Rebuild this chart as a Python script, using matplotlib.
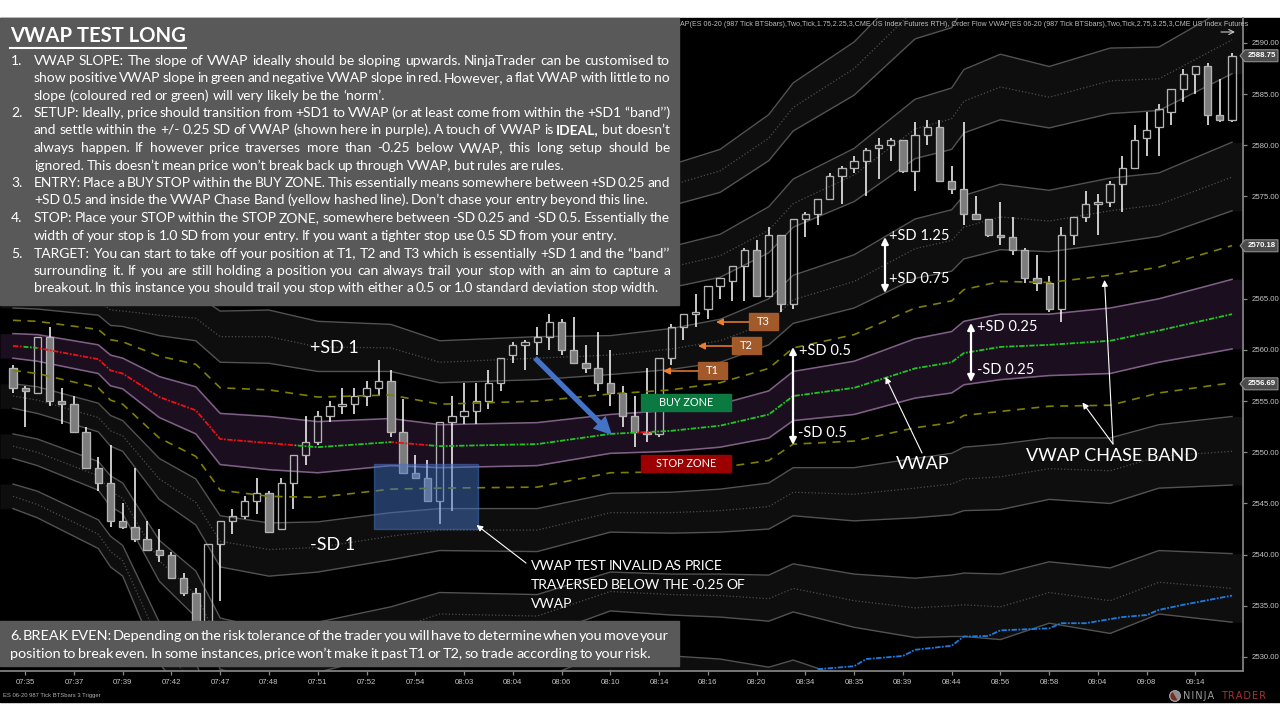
### VWAP test long: candles, VWAP bands and slide notes
import matplotlib
matplotlib.use('Agg')
import matplotlib.pyplot as plt
import numpy as np
from matplotlib.patches import Rectangle, Polygon, Circle, Wedge

# price values are kept relative to this, candles are on 0.25 ticks
base = 2500

opens = [58.25,56.25,55.75,61.25,55.0,54.75,52.0,48.5,47.0,43.25,42.75,41.5,40.5,40.0,37.75,36.25,32.5,41.0,43.25,43.75,
         45.25,46.0,42.5,47.0,49.75,51.0,53.5,54.5,54.75,55.5,56.25,57.0,52.0,48.0,47.5,45.25,53.0,53.5,54.0,55.0,
         56.75,59.5,60.5,60.75,61.25,62.75,60.0,58.75,58.25,56.75,55.75,53.5,52.0,51.75,59.25,62.25,63.5,64.0,66.25,66.75,
         68.25,69.75,65.25,71.25,64.5,72.75,73.25,74.75,77.0,77.75,78.5,79.75,80.0,80.5,77.5,81.0,81.75,76.5,75.75,73.25,
         72.75,71.25,71.0,69.75,67.0,66.5,64.0,71.25,73.0,74.25,74.5,76.25,77.75,80.75,81.75,83.25,85.5,87.0,87.75,83.0,82.5]
highs = [58.5,56.5,61.25,62.25,56.25,55.5,52.5,49.5,50.75,45.0,48.5,43.25,42.5,40.25,38.25,36.75,41.0,43.25,44.5,45.75,
         47.5,46.25,47.5,49.75,53.5,54.0,55.0,56.25,56.25,57.0,59.0,58.0,55.25,49.75,49.25,53.0,55.5,56.75,56.75,58.0,
         59.25,60.75,61.0,62.25,63.5,63.0,63.25,60.5,61.75,60.0,56.5,55.5,58.25,59.25,62.5,63.5,65.5,66.25,67.0,68.25,
         70.0,70.75,72.0,71.25,72.75,73.5,74.75,77.25,78.0,79.0,79.75,80.75,80.75,80.5,82.25,82.5,82.5,78.0,82.25,75.0,
         72.75,74.5,73.0,70.0,69.25,67.25,72.0,73.0,75.5,75.25,76.5,79.0,82.0,83.25,84.0,85.5,87.5,87.75,88.0,86.5,89.0]
lows = [55.75,52.5,55.75,54.5,52.75,52.0,48.5,46.25,42.75,42.5,41.25,40.5,39.25,37.75,36.0,31.5,32.5,35.5,42.0,43.5,
        44.0,42.25,42.5,44.5,48.75,50.75,53.0,53.75,53.75,54.5,55.5,51.5,48.0,47.5,45.25,43.0,44.25,52.75,52.75,54.25,
        56.0,58.75,58.0,59.5,60.0,59.5,58.75,57.75,56.0,54.5,52.5,50.5,51.0,51.5,58.5,61.0,62.25,63.0,65.0,64.75,
        64.75,65.25,65.25,63.75,64.0,71.0,72.25,74.75,74.25,77.25,75.0,76.75,78.5,77.25,75.5,80.0,76.5,75.25,72.25,72.75,
        71.0,70.25,69.25,66.5,65.75,63.75,62.75,70.25,72.5,71.25,74.0,73.5,77.75,79.0,79.0,82.0,84.25,85.0,82.0,82.25,82.25]
closes = [56.25,56.0,61.25,55.0,54.75,52.0,48.5,47.0,43.25,42.75,41.5,40.5,40.0,37.75,36.25,31.75,41.0,43.25,43.75,45.25,
          46.0,42.25,47.0,49.75,51.0,53.5,54.5,54.75,55.5,56.25,57.0,52.0,48.0,47.5,45.25,53.0,53.5,54.0,55.0,56.75,
          59.25,60.5,60.75,61.25,62.75,60.0,58.75,58.25,56.75,55.75,53.5,52.0,51.75,59.25,62.25,63.5,63.75,66.25,67.0,68.25,
          69.75,65.25,71.25,64.5,72.75,73.25,74.75,77.0,77.75,78.5,79.5,80.0,80.5,77.5,81.0,81.75,76.5,75.75,73.25,72.75,
          71.25,71.0,69.75,67.0,66.5,64.0,71.25,73.0,74.25,74.5,76.25,77.75,80.5,81.5,83.5,85.5,87.0,87.75,83.0,82.5,88.75]

band_bars = [0,2,7,8,9,12,15,17,21,25,31,35,43,49,54,58,62,64,69,74,77,78,81,85,90,94,100]
upper_bars = band_bars[13:]   # everything further left is behind the text panel

vwap = [60.4,60.2,59.1,58.0,57.7,55.4,54.1,51.3,50.9,50.5,51.0,50.6,50.8,51.8,52.1,52.6,53.7,55.5,56.3,58.2,58.8,59.7,60.3,60.5,60.9,61.9,63.5]
up_025 = [61.6,61.5,60.5,59.5,59.2,57.4,56.4,53.8,53.5,53.0,53.3,52.7,52.9,53.7,54.1,54.7,56.0,57.9,58.9,61.1,61.8,62.8,63.5,63.5,64.1,65.0,66.9]
dn_025 = [59.2,58.9,57.7,56.5,56.2,53.4,51.8,48.8,48.3,48.0,48.7,48.5,48.7,49.9,50.1,50.5,51.4,53.1,53.7,55.3,55.8,56.6,57.1,57.5,57.7,58.8,60.1]
up_050 = [62.9,62.8,62.0,61.0,60.8,59.4,58.6,56.3,56.1,55.4,55.6,54.7,55.0,55.7,56.1,56.8,58.2,60.2,61.5,64.1,64.8,65.9,66.7,66.6,67.3,68.1,70.2]
dn_050 = [58.0,57.7,56.3,55.1,54.7,51.4,49.6,46.3,45.7,45.6,46.4,46.5,46.6,48.0,48.1,48.5,49.2,50.8,51.1,52.4,52.9,53.6,54.0,54.5,54.6,55.8,56.8]
up_075 = [64.1,64.0,63.4,62.4,62.3,61.4,60.9,58.8,58.7,57.9,57.9,56.8,57.1,57.6,58.1,58.8,60.5,62.6,64.1,67.0,67.7,68.9,69.8,69.6,70.4,71.1,73.6]
dn_075 = [56.7,56.4,54.8,53.6,53.1,49.4,47.4,43.8,43.1,43.2,44.1,44.5,44.5,46.0,46.1,46.4,47.0,48.5,48.5,49.4,49.9,50.5,50.8,51.4,51.4,52.7,53.5]
up_100 = [65.3,65.3,64.8,63.9,63.8,63.4,63.1,61.3,61.3,60.3,60.2,58.8,59.2,59.5,60.1,60.9,62.7,64.9,66.7,69.9,70.7,72.0,73.0,72.6,73.6,74.2,76.9]
dn_100 = [55.5,55.1,53.4,52.1,51.6,47.4,45.1,41.3,40.5,40.7,41.8,42.4,42.4,44.1,44.1,44.3,44.7,46.1,45.9,46.5,46.9,47.4,47.6,48.4,48.2,49.6,50.1]
up_125 = [66.5,66.6,66.2,65.4,65.3,65.4,65.4,63.8,63.9,62.8,62.5,60.9,61.3,61.4,62.1,63.0,65.0,67.3,69.3,72.8,73.7,75.1,76.2,75.6,76.8,77.3,80.3]
dn_125 = [54.3,53.8,52.0,50.6,50.1,45.4,42.9,38.8,37.9,38.3,39.5,40.4,40.3,42.2,42.1,42.2,42.5,43.8,43.3,43.6,43.9,44.3,44.4,45.4,45.0,46.5,46.8]
dn_175 = [51.8,51.3,49.1,47.7,47.0,41.4,38.4,33.8,32.7,33.4,34.9,36.3,36.1,38.3,38.1,38.1,38.0,39.1,38.1,37.7,38.0,38.2,38.1,39.3,38.7,40.4,40.1]
dn_200 = [50.6,50.0,47.7,46.2,45.5,39.4,36.1,31.3,30.1,30.9,32.6,34.2,34.0,36.4,36.1,36.0,35.7,36.7,35.5,34.8,35.0,35.1,34.9,36.3,35.5,37.3,36.7]
dn_225 = [49.4,48.7,46.3,44.7,44.0,37.4,33.9,28.8,27.5,28.5,30.3,32.2,31.9,34.5,34.1,33.9,33.5,34.4,32.9,31.9,32.0,32.0,31.7,33.3,32.3,34.2,33.4]
dn_275 = [46.9,46.2,43.4,41.8,40.9,33.4,29.4,23.8,22.3,23.6,25.7,28.1,27.7,30.6,30.1,29.8,29.0,29.7,27.7,26.0,26.1,25.9,25.4,27.2,26.0,28.1,26.7]
dn_300 = [45.7,44.9,42.0,40.3,39.4,31.4,27.1,21.3,19.7,21.1,23.4,26.0,25.6,28.7,28.1,27.7,26.7,27.3,25.1,23.1,23.1,22.8,22.2,24.2,22.8,25.0,23.3]
dn_325 = [44.5,43.6,40.6,38.8,37.9,29.4,24.9,18.8,17.1,18.7,21.1,24.0,23.5,26.8,26.1,25.6,24.5,25.0,22.5,20.2,20.1,19.7,19.0,21.2,19.6,21.9,20.0]
up_175 = [65.3,66.1,67.1,69.5,72.0,74.5,78.7,79.6,81.2,82.5,81.7,83.1,83.4,87.0]
up_200 = [67.2,68.1,69.2,71.7,74.3,77.1,81.6,82.6,84.3,85.7,84.7,86.3,86.5,90.3]
up_225 = [69.1,70.1,71.3,74.0,76.7,79.7,84.5,85.6,87.4,88.9,87.7,89.5,89.6,93.7]
up_275 = [73.0,74.1,75.4,78.5,81.4,84.9,90.4,91.5,93.5,95.2,93.8,95.8,95.7,100.4]
up_300 = [74.9,76.1,77.5,80.7,83.7,87.5,93.3,94.5,96.6,98.4,96.8,99.0,98.8,103.7]
up_325 = [76.8,78.1,79.6,83.0,86.1,90.1,96.2,97.5,99.7,101.5,99.8,102.2,101.9,107.1]

# blue line at the bottom right
blue_bars = [66,69,70,73,74,77,78,80,81,85,86,88,91,93,94,96,100]
blue_vals = [28.8,29.1,29.8,30.1,30.7,31.1,32.0,32.05,32.6,32.8,33.3,33.3,33.9,34.1,34.6,35.1,36.0]

# where VWAP is coloured red (falling) and green (rising), in bars
red_spans = [(-1,0.9),(2,23),(31,34),(51,52.4)]
green_spans = [(0.9,2),(23,31),(34,51),(52.4,101)]

# 2570 has no label, the 2570.18 tag sits on it
price_ticks = [2530,2535,2540,2545,2550,2555,2560,2565,2575,2580,2585,2590]
time_labels = ['07:35','07:37','07:39','07:42','07:47','07:48','07:51','07:52','07:54','08:03','08:04','08:06','08:10',
               '08:14','08:16','08:20','08:34','08:35','08:39','08:44','08:56','08:58','09:04','09:08','09:14']
time_bars = [1,5,9,13,17,21,25,29,33,37,41,45,49,53,57,61,65,69,73,77,81,85,89,93,97]
last_prices = [2588.75,2570.18,2556.69]

panel_lines = [
    (61, 34, 670, 'VWAP SLOPE: The slope of VWAP ideally should be sloping upwards. NinjaTrader can be customised to'),
    (78.5, 34, 670, 'show positive VWAP slope in green and negative VWAP slope in red. However, a flat VWAP with little to no'),
    (95.5, 34, 385, 'slope (coloured red or green) will very likely be the ‘norm’.'),
    (113, 34, 670, 'SETUP: Ideally, price should transition from +SD1 to VWAP (or at least come from within the +SD1 ‘‘band’’)'),
    (130, 34, 670, 'and settle within the +/- 0.25 SD of VWAP (shown here in purple). A touch of VWAP is IDEAL, but doesn’t'),
    (148, 34, 670, 'always happen. If however price traverses more than -0.25 below VWAP, this long setup should be'),
    (165.5, 34, 564, 'ignored. This doesn’t mean price won’t break back up through VWAP, but rules are rules.'),
    (183, 34, 670, 'ENTRY: Place a BUY STOP within the BUY ZONE. This essentially means somewhere between +SD 0.25 and'),
    (200.5, 34, 648, '+SD 0.5 and inside the VWAP Chase Band (yellow hashed line). Don’t chase your entry beyond this line.'),
    (218, 34, 670, 'STOP: Place your STOP within the STOP ZONE, somewhere between -SD 0.25 and -SD 0.5. Essentially the'),
    (236, 34, 617, 'width of your stop is 1.0 SD from your entry. If you want a tighter stop use 0.5 SD from your entry.'),
    (253.5, 34, 670, 'TARGET: You can start to take off your position at T1, T2 and T3 which is essentially +SD 1 and the ‘‘band’’'),
    (271, 34, 670, 'surrounding it. If you are still holding a position you can always trail your stop with an aim to capture a'),
    (288.5, 34, 659, 'breakout. In this instance you should trail you stop with either a 0.5 or 1.0 standard deviation stop width.'),
]
panel_numbers = [(61,'1.'),(113,'2.'),(183,'3.'),(218,'4.'),(253.5,'5.')]
break_even = [
    (636, 10, 669, '6. BREAK EVEN: Depending on the risk tolerance of the trader you will have to determine when you move your'),
    (653.5, 10, 651, 'position to break even. In some instances, price won’t make it past T1 or T2, so trade according to your risk.'),
]
invalid_note = [
    (566, 531, 722, 'VWAP TEST INVALID AS PRICE'),
    (585, 531, 745, 'TRAVERSED BELOW THE -0.25 OF'),
    (604, 531, 569, 'VWAP'),
]
legend_text = 'AP(ES 06-20 (987 Tick BTSbars),Two,Tick,1.75,2.25,3,CME US Index Futures RTH), Order Flow VWAP(ES 06-20 (987 Tick BTSbars),Two,Tick,2.75,3.25,3,CME US Index Futures'

fig = plt.figure(figsize=(12.8,7.2), dpi=100, facecolor='white')
fig.add_artist(Rectangle((0,18/720), 1, 684/720, transform=fig.transFigure, color='black', zorder=-1))

ax = fig.add_axes([0, 49/720, 1243/1280, 653/720], facecolor='none', zorder=1)
ax.set_xlim(-1.066, 100.9)
ax.set_ylim(2528.63, 2592.44)

x_left = -1.07
x_right = 101

def band_fill(bars, lower, upper, color):
    xs = np.r_[x_left, bars, x_right]
    lo = base + np.r_[lower[0], lower, lower[-1]]
    hi = base + np.r_[upper[0], upper, upper[-1]]
    ax.fill_between(xs, lo, hi, color=color, lw=0, zorder=1)

def band_line(bars, vals, style='-', color='#525252', lw=1.0):
    ax.plot(bars, base + np.array(vals), ls=style, color=color, lw=lw, zorder=1.5)

band_fill(band_bars, dn_025, up_025, '#1a0e1f')
for lo, hi in [(up_075,up_125),(dn_125,dn_075),(dn_225,dn_175),(dn_325,dn_275)]:
    band_fill(band_bars, lo, hi, '#0e0e0e')
for lo, hi in [(up_175,up_225),(up_275,up_325)]:
    band_fill(upper_bars, lo, hi, '#0e0e0e')

for vals in [up_075,up_125,dn_075,dn_125,dn_175,dn_225,dn_275,dn_325]:
    band_line(band_bars, vals)
for vals in [up_100,dn_100,dn_200,dn_300]:
    band_line(band_bars, vals, style=':', color='#4c4c4c', lw=0.9)
for vals in [up_175,up_225,up_275,up_325]:
    band_line(upper_bars, vals)
for vals in [up_200,up_300]:
    band_line(upper_bars, vals, style=':', color='#4c4c4c', lw=0.9)
for vals in [up_025,dn_025]:
    band_line(band_bars, vals, color='#7f5f86', lw=1.15)

# candles: grey body = down bar, see-through body = up bar
bars = np.arange(len(opens))
o = base + np.array(opens)
h = base + np.array(highs)
l = base + np.array(lows)
c = base + np.array(closes)
top = np.maximum(o,c)
bot = np.minimum(o,c)
faces = ['#7c7c7c' if cl < op else 'none' for op, cl in zip(o,c)]
ax.vlines(bars, top, h, color='white', lw=1.1, zorder=2)
ax.vlines(bars, l, bot, color='white', lw=1.1, zorder=2)
ax.bar(bars, top-bot, bottom=bot, width=0.6, facecolor=faces, edgecolor='#b4b4b4', lw=0.95, zorder=2.2)

# chase band goes over the candles
for vals in [up_050,dn_050]:
    ax.plot(band_bars, base + np.array(vals), color='#7f7f00', lw=1.2, ls=(0,(4.8,3.9)), zorder=3)

for spans, col in [(red_spans,'#ee1111'),(green_spans,'#22c422')]:
    for x0, x1 in spans:
        line, = ax.plot(band_bars, base + np.array(vwap), color=col, lw=1.3, ls=(0,(3,0.8,1,0.8)), zorder=3)
        line.set_clip_path(Rectangle((x0,2500), x1-x0, 100, transform=ax.transData))

ax.plot(blue_bars, base + np.array(blue_vals), color='#1c7ce0', lw=1.3, ls=(0,(3,0.8,1,0.8)), zorder=3)

ax.yaxis.tick_right()
ax.set_yticks(price_ticks)
ax.set_yticklabels(['%.2f' % p for p in price_ticks])
ax.set_xticks(time_bars)
ax.set_xticklabels(time_labels)
ax.tick_params(axis='both', colors='#8a8a8a', labelcolor='#c4c4c4', labelsize=5.6, length=3, width=0.9, pad=3)
for lab in ax.get_xticklabels() + ax.get_yticklabels():
    lab.set_family('Liberation Sans')
for side in ['top','left']:
    ax.spines[side].set_visible(False)
for side in ['right','bottom']:
    ax.spines[side].set_color('#808080')
    ax.spines[side].set_linewidth(1.3)

# everything that was drawn on top of the chart, in slide pixels
ov = fig.add_axes([0,0,1,1], facecolor='none', zorder=2)
ov.set_xlim(0,1280)
ov.set_ylim(720,0)
ov.axis('off')
renderer = fig.canvas.get_renderer()

ov.text(680, 25, legend_text, color='#bdbdbd', fontsize=5.1, family='Liberation Sans', va='center', zorder=1)
ov.add_patch(Rectangle((0,18), 679, 287, color='#595959', zorder=5))
ov.add_patch(Rectangle((0,621), 679, 45, color='#595959', zorder=5))

def text_line(y, x0, x1, s, size):
    # words spread out to fill x0..x1, the slide text was justified
    words = s.split(' ')
    arts = []
    total = 0
    for w in words:
        weight = 'bold' if w == 'IDEAL,' else 'normal'
        # baseline, not center: brackets and descenders would shift single words
        t = ov.text(x0, y+4, w, color='white', fontsize=size, family='Lato', weight=weight, va='baseline', zorder=6)
        arts.append(t)
        total += t.get_window_extent(renderer).width
    gap = max((x1-x0-total) / max(len(words)-1,1), 1.2)
    x = x0
    for t in arts:
        t.set_x(x)
        x += t.get_window_extent(renderer).width + gap

for y, x0, x1, s in panel_lines:
    text_line(y, x0, x1, s, 10)
for y, s in panel_numbers:
    ov.text(11, y+4, s, color='white', fontsize=10, family='Lato', va='baseline', zorder=6)
for y, x0, x1, s in break_even:
    text_line(y, x0, x1, s, 10.4)
for y, x0, x1, s in invalid_note:
    text_line(y, x0, x1, s, 10)

ov.text(10, 36, 'VWAP TEST LONG', color='white', fontsize=14.6, family='Lato', weight='bold', va='center', zorder=6)
ov.plot([10,186], [47.5,47.5], color='white', lw=1.5, zorder=6)

# buy / stop zones and targets
ov.add_patch(Rectangle((641,394), 90, 17, color='#0b7a40', zorder=4))
ov.text(686, 402.5, 'BUY ZONE', color='white', fontsize=7.8, family='Lato', ha='center', va='center', zorder=6)
ov.add_patch(Rectangle((641,455), 90, 17, color='#9c0000', zorder=4))
ov.text(686, 463.5, 'STOP ZONE', color='white', fontsize=7.8, family='Lato', ha='center', va='center', zorder=6)

def arrow(tip, tail, color='white', lw=0.8, style='-|>', scale=9):
    ov.annotate('', xy=tip, xytext=tail, zorder=6,
                arrowprops=dict(arrowstyle=style, color=color, lw=lw, mutation_scale=scale, shrinkA=0, shrinkB=0))

for name, x0, y0, tip_x in [('T3',749,313,716), ('T2',732,337,698), ('T1',698,362,663)]:
    ov.add_patch(Rectangle((x0,y0), 29, 17, color='#a25a2a', zorder=4))
    ov.text(x0+14.5, y0+8.5, name, color='white', fontsize=8, family='Lato', ha='center', va='center', zorder=6)
    arrow((tip_x,y0+9), (x0,y0+9), color='#ed7d31', lw=1.1, scale=10)

ov.add_patch(Rectangle((374,464), 104, 65, facecolor='#4472c4', alpha=0.5, edgecolor='#4472c4', lw=1, zorder=4))
ov.annotate('', xy=(612,435), xytext=(535,358), zorder=6,
            arrowprops=dict(width=3.8, headwidth=13, headlength=13, facecolor='#4472c4', edgecolor='#4472c4', lw=0, shrink=0))

# double arrows between the SD levels
arrow((793,347), (793,445), lw=1.6, style='<|-|>', scale=10)
arrow((885,237), (885,293), lw=1.6, style='<|-|>', scale=10)
arrow((971,323), (971,382), lw=1.6, style='<|-|>', scale=10)

# thin arrows from the labels
arrow((885.5,377), (922,453))
arrow((1082.5,402.5), (1113,444))
arrow((1104.5,280), (1113,444))
arrow((476.5,525), (526,563))
arrow((1235,32), (1221,32), color='#c8c8c8', lw=0.8, style='->', scale=9)

for x0, y, s, size in [(310,348,'+SD 1',13), (310,545,'-SD 1',13), (799,351,'+SD 0.5',10.5), (798,433,'-SD 0.5',10.5),
                       (977,327,'+SD 0.25',10.5), (977,370,'-SD 0.25',10.5), (889,236,'+SD 1.25',10.5), (889,279,'+SD 0.75',10.5),
                       (896,464,'VWAP',13), (1026,456,'VWAP CHASE BAND',13)]:
    ov.text(x0, y, s, color='white', fontsize=size, family='Lato', va='center', zorder=6)

# price tags at the axis
ymin, ymax = ax.get_ylim()
for p in last_prices:
    y = 671 - (p-ymin)/(ymax-ymin)*653
    ov.add_patch(Polygon([(1240,y),(1245,y-6),(1278,y-6),(1278,y+6),(1245,y+6)], facecolor='#4c4c4c', edgecolor='#9a9a9a', lw=0.7, zorder=5))
    ov.text(1262, y, '%.2f' % p, color='white', fontsize=5.6, family='Liberation Sans', weight='bold', ha='center', va='center', zorder=6)

ov.text(3, 695, 'ES 06-20 987 Tick BTSbars 3 Trigger', color='#b0b0b0', fontsize=4.2, family='Liberation Sans', va='center')

# logo, letters spaced out by hand
ov.add_patch(Circle((1175,696), 5.5, facecolor='#8c8c8c', edgecolor='#bbbbbb', lw=0.5))
ov.add_patch(Wedge((1175,696), 4.5, 60, 240, facecolor='#7a2a20', lw=0))
ov.text(1183, 696, '\u200a'.join('NINJA'), color='#9c9c9c', fontsize=7, family='DejaVu Sans', va='center')
ov.text(1221, 696, '\u200a'.join('TRADER'), color='#a83232', fontsize=7, family='DejaVu Sans', va='center')

plt.savefig('out.png', dpi=100, facecolor='white')
plt.close()
